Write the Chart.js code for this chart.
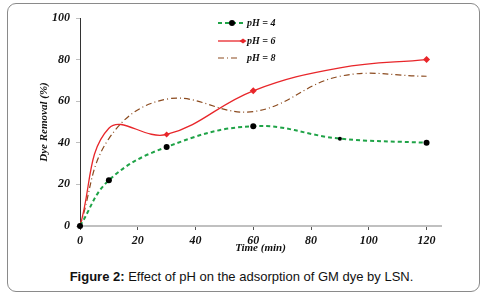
<!DOCTYPE html>
<html>
<head>
<meta charset="utf-8">
<script src="https://cdn.jsdelivr.net/npm/chart.js@4"></script>
<style>
  body { margin: 0; background: #fff; }
  #wrap { position: relative; width: 483px; height: 297px; }
  #card { position: absolute; left: 7px; top: 3px; width: 473px; height: 289px; box-sizing: border-box;
          border: 1.5px solid #8a8a8a; border-radius: 9px; }
  #chart1 { position: absolute; left: 0; top: 0; }
  #caption { position: absolute; left: 0; top: 269px; width: 483px; text-align: center;
             font: 13px "Liberation Sans", Arial, sans-serif; line-height: 16px; color: #111; }
</style>
</head>
<body>
<div id="wrap">
  <div id="card"></div>
  <canvas id="chart1" width="483" height="260"></canvas>
  <div id="caption"><b>Figure 2:</b> Effect of pH on the adsorption of GM dye by LSN.</div>
</div>
<script>
const times = [0, 10, 30, 60, 90, 120];
const ph4 = [0, 22, 38, 48, 42, 40];
const ph6 = [0, 47, 44, 65, 76, 80];
const ph8 = [0, 42, 61, 55, 72, 72];
const seriesLabels = ['pH = 4', 'pH = 6', 'pH = 8'];
const xTicks = [0, 20, 40, 60, 80, 100, 120];

const tickFont = { family: '"Liberation Serif", "Times New Roman", serif', size: 12, style: 'italic', weight: 'bold' };
const titleFont = { family: '"Liberation Serif", "Times New Roman", serif', size: 11, style: 'italic', weight: 'bold' };

function toPoints(values) {
    return times.map((t, i) => ({ x: t, y: values[i] }));
}

// legend drawn by hand: line sample with its marker, then the label
const legendPlugin = {
    id: 'sampleLegend',
    afterDraw(chart) {
        const ctx = chart.ctx;
        const rows = [
            { y: 23, color: '#1fa347', dash: [4, 3], width: 2, marker: 'dot' },
            { y: 41, color: '#e8262a', dash: [], width: 1.3, marker: 'diamond' },
            { y: 58, color: '#8b4a1e', dash: [6, 3, 1, 3], width: 1.2, marker: null }
        ];
        ctx.save();
        rows.forEach((r, i) => {
            ctx.beginPath();
            ctx.setLineDash(r.dash);
            ctx.strokeStyle = r.color;
            ctx.lineWidth = r.width;
            ctx.moveTo(218, r.y);
            ctx.lineTo(i == 2 ? 240 : 245, r.y);
            ctx.stroke();
            ctx.setLineDash([]);
            if (r.marker == 'dot') {
                ctx.fillStyle = '#000';
                ctx.beginPath();
                ctx.arc(232, r.y, 3, 0, Math.PI * 2);
                ctx.fill();
            } else if (r.marker == 'diamond') {
                ctx.fillStyle = r.color;
                ctx.beginPath();
                ctx.moveTo(243 - 3.5, r.y);
                ctx.lineTo(243, r.y - 2.5);
                ctx.lineTo(243 + 3.5, r.y);
                ctx.lineTo(243, r.y + 2.5);
                ctx.closePath();
                ctx.fill();
            }
            ctx.fillStyle = '#111';
            ctx.font = 'italic bold 10px "Liberation Serif", serif';
            ctx.textBaseline = 'middle';
            ctx.fillText(seriesLabels[i], 247, r.y);
        });
        ctx.restore();
    }
};

new Chart(document.getElementById('chart1').getContext('2d'), {
    type: 'line',
    data: {
        datasets: [{
            label: seriesLabels[0],
            data: toPoints(ph4),
            borderColor: '#1fa347',
            borderWidth: 2,
            borderDash: [4, 3],
            tension: 0.4,
            pointRadius: [3, 3, 3, 3, 2, 3],
            pointBackgroundColor: '#000',
            pointBorderWidth: 0,
            clip: false
        }, {
            label: seriesLabels[1],
            data: toPoints(ph6),
            borderColor: '#e8262a',
            borderWidth: 1.3,
            tension: 0.4,
            pointStyle: 'rectRot',
            pointRadius: [3, 0, 3, 3.5, 0, 3.5],
            pointBackgroundColor: '#e8262a',
            pointBorderWidth: 0,
            clip: false
        }, {
            label: seriesLabels[2],
            data: toPoints(ph8),
            borderColor: '#8b4a1e',
            borderWidth: 1.2,
            borderDash: [6, 3, 1, 3],
            tension: 0.4,
            pointRadius: 0,
            clip: false
        }]
    },
    options: {
        responsive: false,
        animation: false,
        layout: { padding: { top: 18, right: 42, left: 0, bottom: 0 } },
        plugins: { legend: { display: false }, tooltip: { enabled: false } },
        scales: {
            x: {
                type: 'linear',
                min: 0,
                max: 125,
                afterBuildTicks(scale) {
                    scale.ticks = xTicks.map(v => ({ value: v }));
                },
                afterFit(scale) { scale.height = 34; },
                grid: { drawOnChartArea: false, color: '#555', tickLength: 4 },
                border: { color: '#c0c0c0', width: 2 },
                ticks: { font: tickFont, color: '#111', padding: 4, maxRotation: 0 },
                title: { display: true, text: 'Time (min)', font: titleFont, color: '#111', padding: { bottom: 5 } }
            },
            y: {
                min: 0,
                max: 100,
                afterFit(scale) { scale.width = 80; },
                grid: { drawOnChartArea: false, color: '#bfbfbf', tickLength: 4 },
                border: { color: '#333', width: 1 },
                ticks: { stepSize: 20, font: tickFont, color: '#111', padding: 6 },
                title: { display: true, text: 'Dye Removal (%)', font: titleFont, color: '#111', padding: { top: 38 } }
            }
        }
    },
    plugins: [legendPlugin]
});
</script>
</body>
</html>
